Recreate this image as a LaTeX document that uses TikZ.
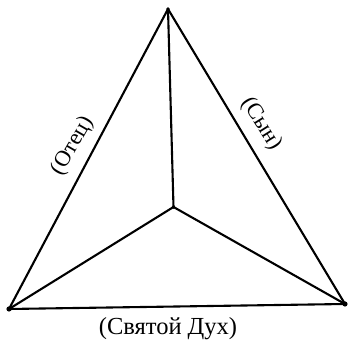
\documentclass[tikz,border=0pt]{standalone}
\usepackage{fontspec}
\setmainfont{Liberation Serif}
\usepackage{tikz}
\usetikzlibrary{positioning}
\tikzset{
  edge line/.style={draw=black,line width=2.1pt,line cap=round},
  person label/.style={font=\fontsize{22.5}{24}\selectfont,text=black,inner sep=0pt,anchor=center}
}

\begin{document}
\begin{tikzpicture}[x=1pt,y=1pt]
\useasboundingbox (0,0) rectangle (349,340);
\coordinate (top) at (168,331);
\coordinate (middle) at (173.5,133);
\coordinate (left) at (9,31);
\coordinate (right) at (345,36);

\draw[edge line] (top) -- (left);
\draw[edge line] (top) -- (right);
\draw[edge line] (left) -- (right);
\draw[edge line] (top) -- (middle);
\draw[edge line] (middle) -- (left);
\draw[edge line] (middle) -- (right);

\fill (top) circle (1.8);
\fill (middle) circle (1.8);
\fill (left) circle (2.6);
\fill (right) circle (2.6);

\node[person label,rotate=60] (father) at (72.5,194) {(Отец)};
\node[person label,rotate=-58] (son) at (261.5,216) {(Сын)};
\node[person label,font=\fontsize{24.5}{26}\selectfont] (spirit) at (168,11) {(Святой Дух)};
\end{tikzpicture}
\end{document}
